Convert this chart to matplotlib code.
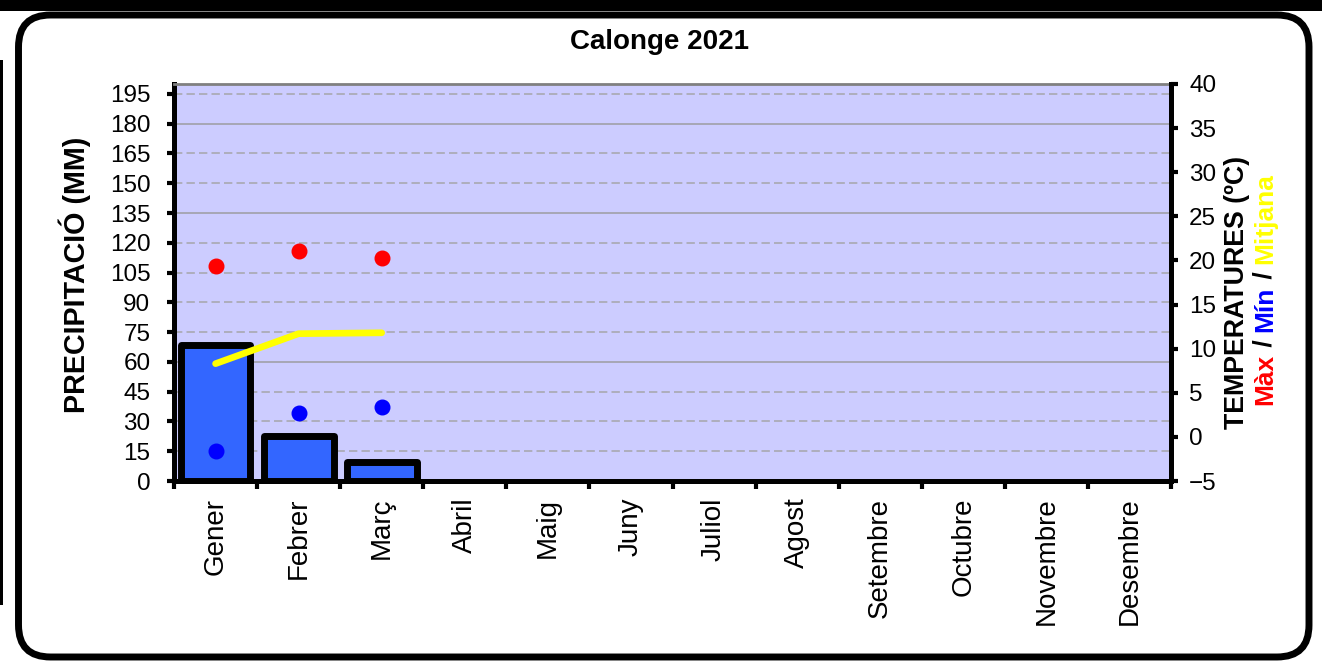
import numpy as np
import matplotlib.pyplot as plt
from matplotlib.patches import FancyBboxPatch, Rectangle
from matplotlib.text import Annotation
from matplotlib.transforms import IdentityTransform

plt.rcParams['font.family'] = ['Liberation Sans', 'DejaVu Sans']

months = ['Gener', 'Febrer', 'Març', 'Abril', 'Maig', 'Juny', 'Juliol',
          'Agost', 'Setembre', 'Octubre', 'Novembre', 'Desembre']
precip = [68.3, 22.9, 9.8]
t_max = [19.4, 21.1, 20.3]
t_min = [-1.6, 2.7, 3.4]
t_mean = [8.3, 11.7, 11.8]
precip_ticks = np.arange(0, 196, 15)
temp_ticks = np.arange(-5, 41, 5)
solid_grid = [60, 135, 180]

W, H = 1326, 662
fig = plt.figure(figsize=(W / 100, H / 100), dpi=100)
px = IdentityTransform()

# frame around the chart (behind the axes)
fig.add_artist(Rectangle((0, H - 11), 1322, 11, transform=px, fc='black', ec='none', zorder=-2))
fig.add_artist(Rectangle((0, H - 605), 3, 545, transform=px, fc='black', ec='none', zorder=-2))
fig.add_artist(FancyBboxPatch((18.5, H - 657), 1309 - 18.5, 657 - 15, transform=px,
                              boxstyle="round,pad=0,rounding_size=32",
                              fc='white', ec='black', lw=5, zorder=-1))

ax = fig.add_axes([174 / W, (H - 481) / H, (1171 - 174) / W, (481 - 84) / H])
ax.set_facecolor('#CCCCFF')
x = np.arange(len(months))

for v in precip_ticks[1:]:
    if v in solid_grid:
        ax.axhline(v, color='#A0A0A8', lw=1.2, zorder=0.5)
    else:
        ax.axhline(v, color='#A8A8B0', lw=1.2, ls=(0, (5, 2.5)), zorder=0.5)

ax.bar(x[:len(precip)], precip, width=0.84, color='#3366FF', edgecolor='black',
       lw=5, joinstyle='round', zorder=2)

ax.set_xlim(-0.5, 11.5)
ax.set_ylim(0, 200)
ax.set_yticks(precip_ticks)
ax.set_xticks(np.arange(-0.5, 12, 1))
ax.set_xticklabels([])
ax.set_xticks(x, minor=True)
ax.set_xticklabels(months, minor=True, rotation=90, fontsize=20, va='top')
ax.tick_params(axis='x', which='major', length=6, width=3, direction='out')
ax.tick_params(axis='x', which='minor', length=0, pad=12)
ax.tick_params(axis='y', length=5, width=3, pad=12, labelsize=17.5)

for s in ['left', 'bottom']:
    ax.spines[s].set_linewidth(3.6)
    ax.spines[s].set_color('black')
ax.spines['top'].set_color('#808080')
ax.spines['top'].set_linewidth(2)
ax.spines['right'].set_visible(False)

ax2 = ax.twinx()
ax2.set_ylim(-5, 40)
ax2.set_yticks(temp_ticks)
ax2.tick_params(axis='y', length=5, width=3, pad=8, labelsize=17.5)
for s in ['left', 'bottom', 'top']:
    ax2.spines[s].set_visible(False)
ax2.spines['right'].set_linewidth(3.6)
ax2.spines['right'].set_color('black')

n = len(t_mean)
ax2.plot(x[:n], t_mean, color='#FFFF00', lw=4.8, solid_capstyle='round', zorder=3)
ax2.plot(x[:n], t_max, 'o', color='#FF0000', ms=10.5, zorder=4)
ax2.plot(x[:n], t_min, 'o', color='#0000FF', ms=10.5, zorder=4)

fig.text(660 / W, 1 - 42 / H, 'Calonge 2021', ha='center', va='center',
         fontsize=20, fontweight='bold')
fig.text(75 / W, 1 - 275 / H, 'PRECIPITACIÓ (MM)', ha='center', va='center',
         rotation=90, fontsize=20.7, fontweight='bold')
fig.text(1237 / W, 1 - 292 / H, 'TEMPERATURES (ºC)', ha='center', va='center',
         rotation=90, fontsize=19.3, fontweight='bold')

# second right label line, one colour per word
parts = [('Màx', '#FF0000'), (' / ', 'black'), ('Mín', '#0000FF'),
         (' / ', 'black'), ('Mitjana', '#FFFF00')]
prev = fig.text(1265 / W, (H - 405) / H, parts[0][0], color=parts[0][1],
                ha='center', va='bottom', rotation=90, fontsize=19, fontweight='bold')
for txt, col in parts[1:]:
    prev = fig.add_artist(Annotation(txt, xy=(0.5, 1), xycoords=prev, ha='center',
                                     va='bottom', rotation=90, fontsize=19,
                                     fontweight='bold', color=col))

fig.savefig('out.png', dpi=100)
